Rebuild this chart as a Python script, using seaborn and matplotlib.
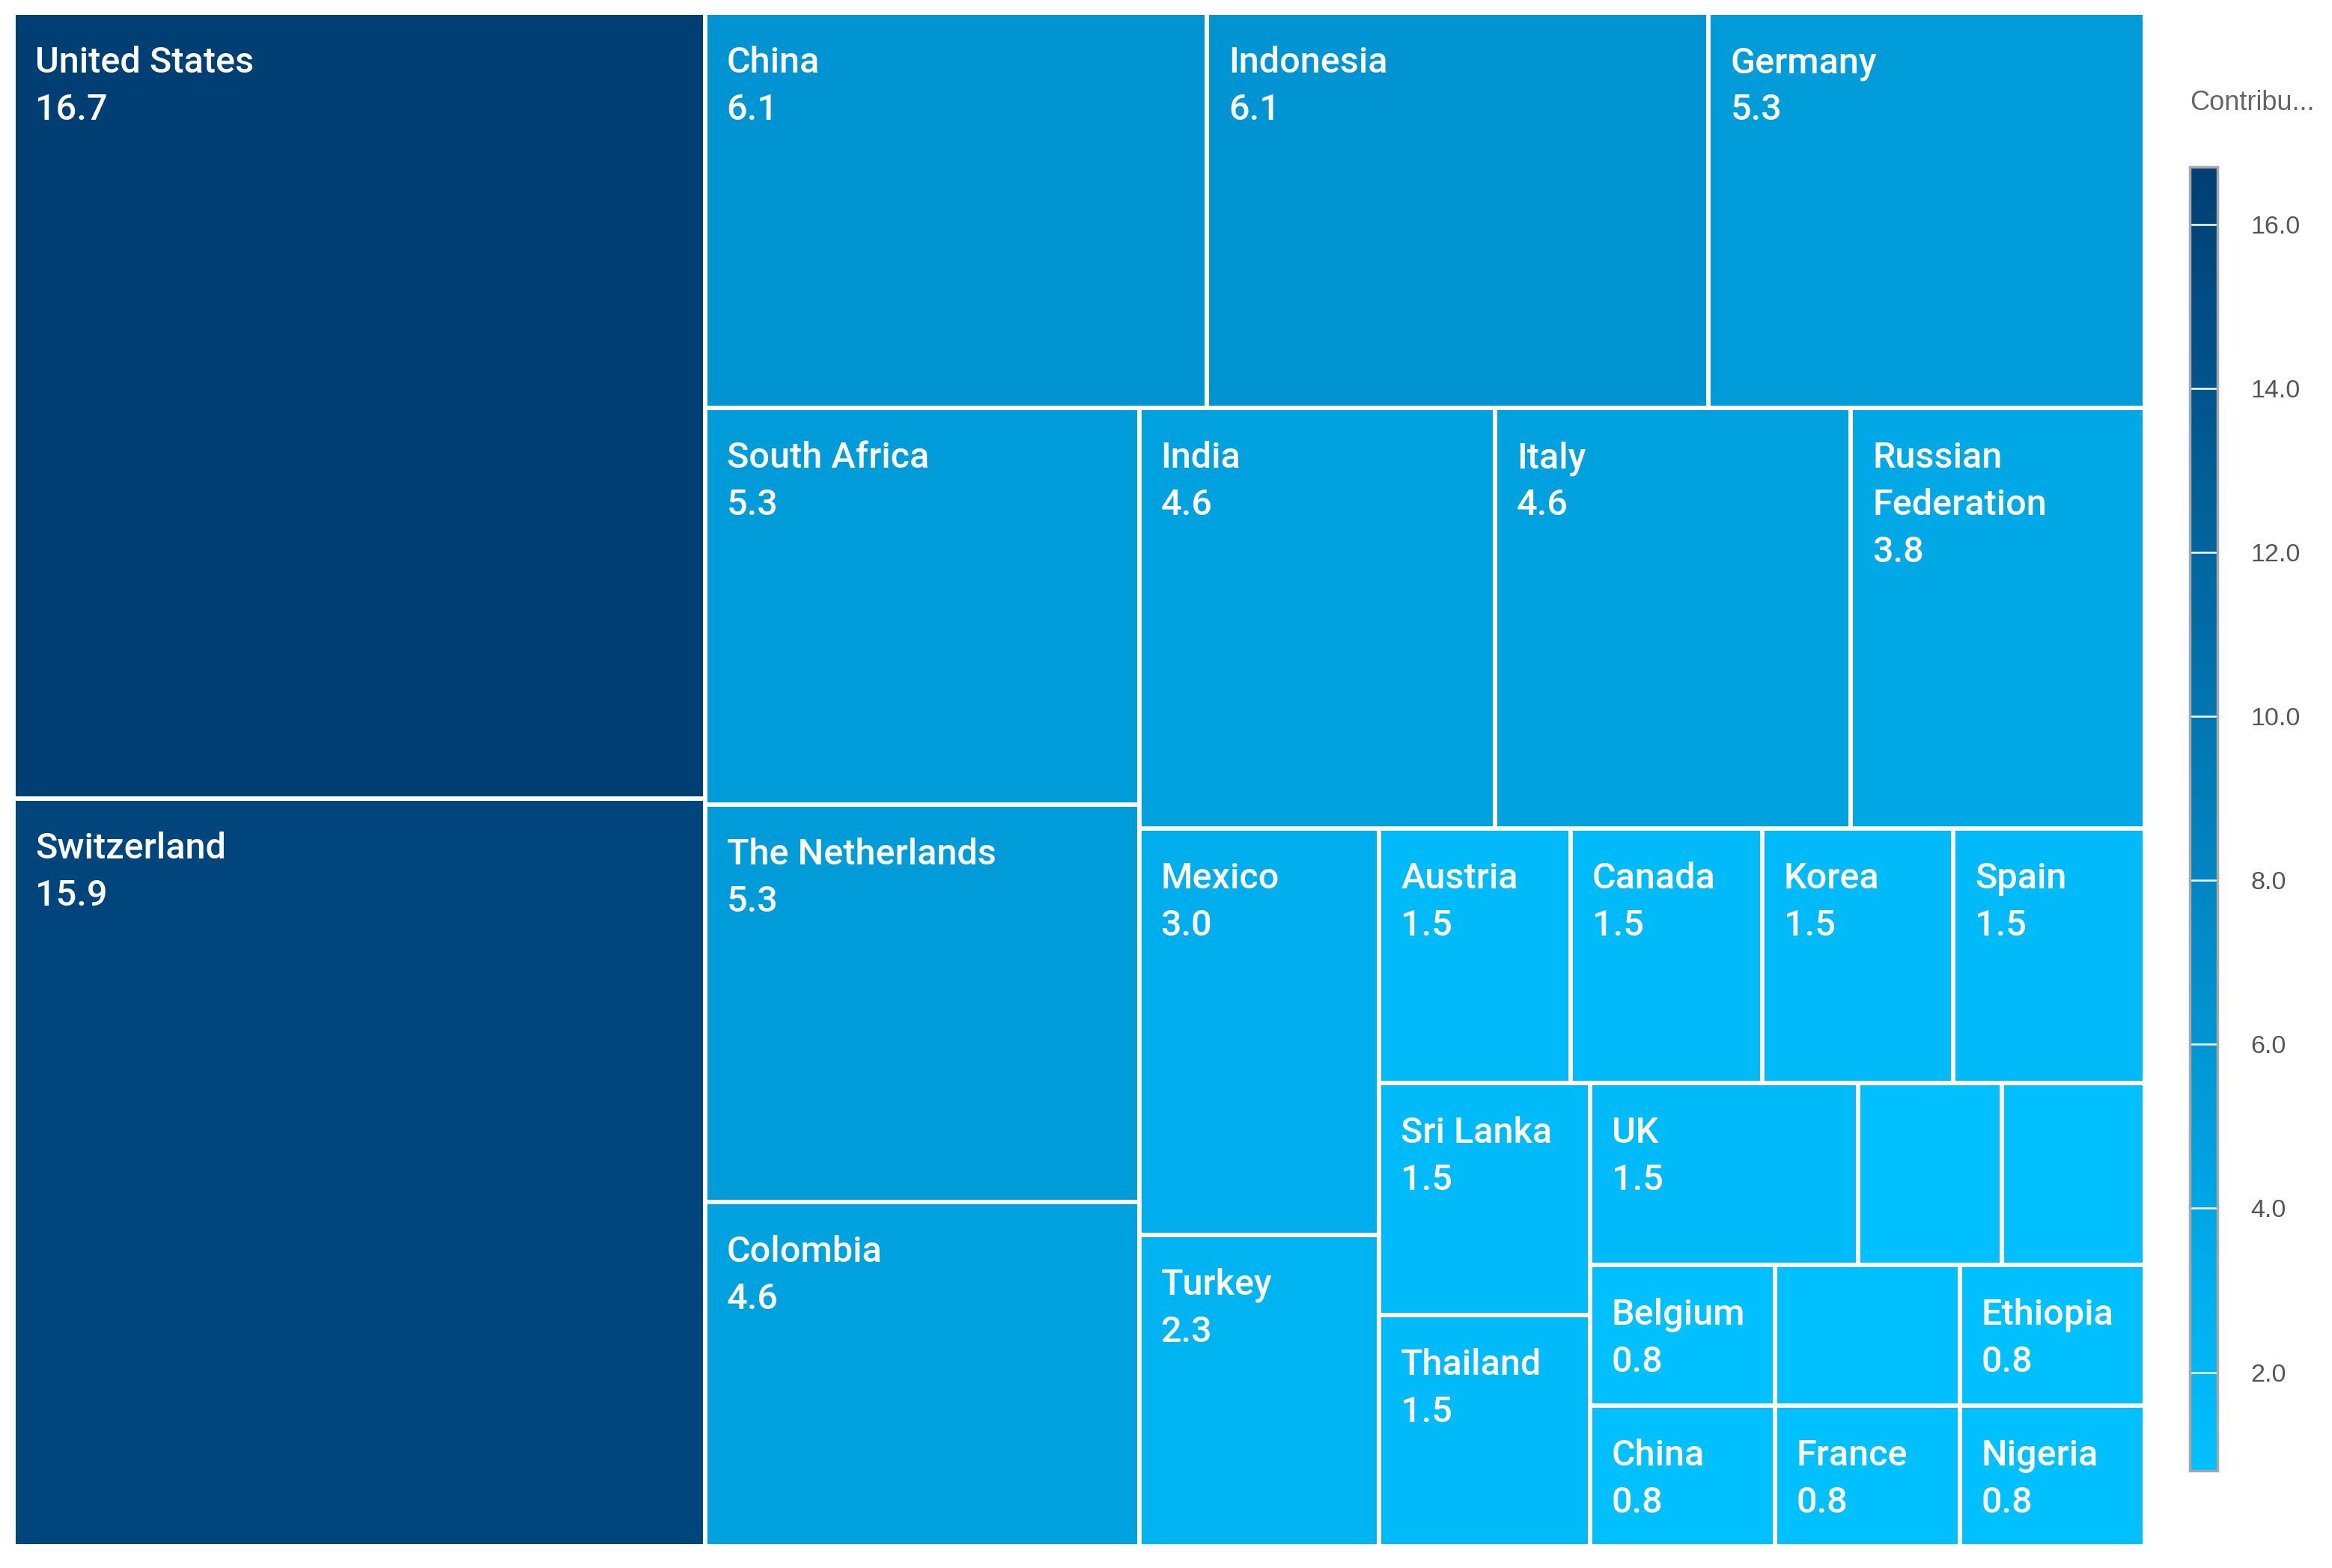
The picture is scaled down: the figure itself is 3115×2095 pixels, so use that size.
import matplotlib
matplotlib.use("Agg")
import numpy as np
import pandas as pd
import matplotlib.pyplot as plt
import seaborn as sns
from matplotlib import font_manager
from matplotlib.colors import Normalize
from matplotlib.cm import ScalarMappable

# ---------------- data ----------------
countries = ["United States", "Switzerland", "China", "Indonesia", "Germany",
             "South Africa", "The Netherlands", "Colombia", "India", "Italy",
             "Russian Federation", "Mexico", "Turkey", "Austria", "Canada",
             "Korea", "Spain", "Sri Lanka", "Thailand", "UK", "", "",
             "Belgium", "China", "", "Ethiopia", "France", "Nigeria"]
values = [16.7, 15.9, 6.1, 6.1, 5.3, 5.3, 5.3, 4.6, 4.6, 4.6, 3.8, 3.0, 2.3,
          1.5, 1.5, 1.5, 1.5, 1.5, 1.5, 1.5, 0.8, 0.8, 0.8, 0.8, 0.8, 0.8,
          0.8, 0.8]
cbar_ticks = [2.0, 4.0, 6.0, 8.0, 10.0, 12.0, 14.0, 16.0]
cbar_title = "Contribu..."
palette_colors = ["#00C0FF", "#0080BC", "#003F74"]

# ---------------- style ----------------
sns.set_theme(style="white")
avail = {f.name for f in font_manager.fontManager.ttflist}
label_family = "Liberation Sans Narrow" if "Liberation Sans Narrow" in avail else "Roboto"
plt.rcParams["font.family"] = ["Liberation Sans", "DejaVu Sans"]

FW, FH = 3115, 2095
fig = plt.figure(figsize=(FW / 100, FH / 100), dpi=100)
fig.patch.set_facecolor("white")

# treemap axes (pixel-proportional data space)
X0, Y0, X1, Y1 = 18, 17, 2865, 2066
W, H = X1 - X0, Y1 - Y0
ax = fig.add_axes([X0 / FW, 1 - Y1 / FH, W / FW, H / FH])
ax.set_xlim(0, W)
ax.set_ylim(H, 0)
ax.axis("off")


def worst(row, side, scale):
    s = sum(row) * scale
    thick = s / side
    r = 0
    for v in row:
        length = v * scale / thick
        r = max(r, thick / length, length / thick)
    return r


def strip_layout(vals, x, y, w, h):
    scale = w * h / sum(vals)
    out = []
    i, n = 0, len(vals)
    vertical = True
    while i < n:
        side = h if vertical else w
        row = [vals[i]]
        best = worst(row, side, scale)
        j = i + 1
        while j < n:
            cand = row + [vals[j]]
            wv = worst(cand, side, scale)
            if wv <= best:
                row, best = cand, wv
                j += 1
            else:
                break
        thick = sum(row) * scale / side
        pos = 0.0
        for v in row:
            length = v * scale / thick
            if vertical:
                out.append((x, y + pos, thick, length))
            else:
                out.append((x + pos, y, length, thick))
            pos += length
        if vertical:
            x += thick
            w -= thick
        else:
            y += thick
            h -= thick
        vertical = not vertical
        i = j
    return out


df = pd.DataFrame({"country": countries, "value": values})
rects = strip_layout(list(df["value"]), 0.0, 0.0, W, H)
df[["x", "y", "w", "h"]] = pd.DataFrame(rects)

cmap = sns.blend_palette(palette_colors, as_cmap=True)
norm = Normalize(vmin=min(values), vmax=max(values))
colors = [cmap(norm(v)) for v in df["value"]]

ax.bar(df["x"], df["h"], width=df["w"], bottom=df["y"], align="edge",
       color=colors, edgecolor="white", linewidth=4.3)

renderer = fig.canvas.get_renderer()
FS = 35
WEIGHT = "medium"
PADX, BASE, LSP = 29, 80, 63


def text_w(s):
    t = ax.text(0, 0, s, fontsize=FS, family=label_family, weight=WEIGHT)
    wdt = t.get_window_extent(renderer).width
    t.remove()
    return wdt


for _, r in df.iterrows():
    if not r["country"]:
        continue
    availw = r["w"] - PADX - 12
    lines, cur = [], ""
    for word in r["country"].split():
        test = (cur + " " + word).strip()
        if cur == "" or text_w(test) <= availw:
            cur = test
        else:
            lines.append(cur)
            cur = word
    lines.append(cur)
    lines.append(f"{r['value']:.1f}")
    for k, ln in enumerate(lines):
        ax.text(r["x"] + PADX, r["y"] + BASE + k * LSP, ln, fontsize=FS,
                family=label_family, weight=WEIGHT, color="white",
                ha="left", va="baseline")

# ---------------- colorbar ----------------
cx0, cx1, cy0, cy1 = 2925, 2962, 223, 1965
cax = fig.add_axes([cx0 / FW, 1 - cy1 / FH, (cx1 - cx0) / FW, (cy1 - cy0) / FH])
sm = ScalarMappable(norm=norm, cmap=cmap)
cb = fig.colorbar(sm, cax=cax, ticks=cbar_ticks, format="%.1f")
cb.outline.set_edgecolor("#a8a8a8")
cb.outline.set_linewidth(2.5)
cax.tick_params(length=0, pad=32, labelsize=24.5, labelcolor="#555555")
for t in cbar_ticks:
    cax.axhline(t, color="white", lw=1.8)

fig.text(2925 / FW, 1 - 147 / FH, cbar_title, fontsize=26, color="#666666",
         ha="left", va="baseline")

fig.savefig("out.png", dpi=100, facecolor="white")
